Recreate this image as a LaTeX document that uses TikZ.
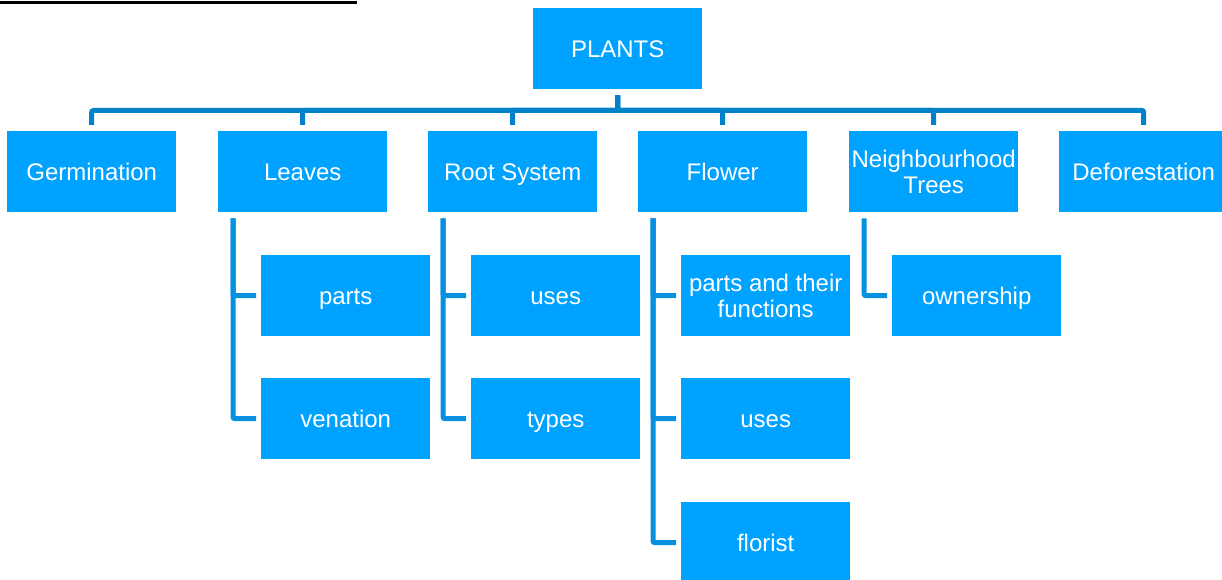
\documentclass[tikz,border=0pt]{standalone}
\usepackage{fontspec}
\setmainfont{Liberation Sans}
\definecolor{boxfill}{RGB}{0,162,255}
\definecolor{barcol}{RGB}{0,130,200}
\definecolor{brcol}{RGB}{8,144,224}
\begin{document}
\begin{tikzpicture}[x=1pt,y=-1pt,
  box/.style={fill=boxfill, text=white, minimum width=169pt, minimum height=81pt,
    inner sep=0pt, align=center, font=\fontsize{24}{26}\selectfont, anchor=north west},
  onebox/.style={box, text height=17.2pt, text depth=0pt},
  bar/.style={draw=barcol, line width=5pt, rounded corners=2pt},
  brk/.style={draw=brcol, line width=5pt, rounded corners=2pt},
  rulestyle/.style={draw=black, line width=2.5pt}]
\useasboundingbox (0,0) rectangle (1222,580);
\coordinate (ruleL) at (0,2.5);
\coordinate (ruleR) at (357,2.5);
\draw[rulestyle] (ruleL) -- (ruleR);

\node[onebox] (plants) at (533,8) {PLANTS};

\node[onebox] (germ)  at (7,131)    {Germination};
\node[onebox] (leaves) at (218,131) {Leaves};
\node[onebox] (root)  at (428,131)  {Root System};
\node[onebox] (flower) at (638,131) {Flower};
\node[box] (neigh) at (849,131)  {Neighbourhood\\Trees};
\node[onebox] (defor) at (1059,131) {Deforestation};

\node[onebox] (lparts) at (261,255) {parts};
\node[onebox] (lven)   at (261,378) {venation};
\node[onebox] (ruses)  at (471,255) {uses};
\node[onebox] (rtypes) at (471,378) {types};
\node[box] (fparts) at (681,255) {parts and their\\functions};
\node[onebox] (fuses)  at (681,378) {uses};
\node[onebox] (fflor)  at (681,502) {florist};
\node[onebox] (nown)   at (892,255) {ownership};

\foreach \c in {germ,leaves,root,flower,neigh,defor}{
  \draw[bar] ([yshift=-6pt]plants.south) -- ++(0,15) -| ([yshift=6pt]\c.north);
}

\draw[brk] ([xshift=15pt,yshift=-6pt]leaves.south west) |- ([xshift=-5pt]lparts.west);
\draw[brk] ([xshift=15pt,yshift=-6pt]leaves.south west) |- ([xshift=-5pt]lven.west);
\draw[brk] ([xshift=15pt,yshift=-6pt]root.south west) |- ([xshift=-5pt]ruses.west);
\draw[brk] ([xshift=15pt,yshift=-6pt]root.south west) |- ([xshift=-5pt]rtypes.west);
\draw[brk] ([xshift=15pt,yshift=-6pt]flower.south west) |- ([xshift=-5pt]fparts.west);
\draw[brk] ([xshift=15pt,yshift=-6pt]flower.south west) |- ([xshift=-5pt]fuses.west);
\draw[brk] ([xshift=15pt,yshift=-6pt]flower.south west) |- ([xshift=-5pt]fflor.west);
\draw[brk] ([xshift=15pt,yshift=-6pt]neigh.south west) |- ([xshift=-5pt]nown.west);
\end{tikzpicture}
\end{document}
